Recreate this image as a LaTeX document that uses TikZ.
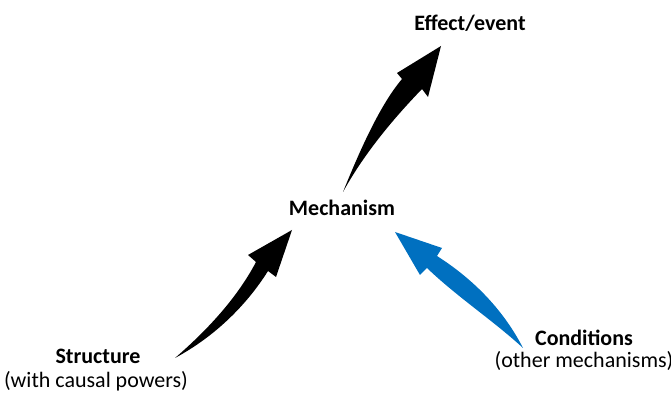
\documentclass[tikz,border=0pt]{standalone}
\usepackage{fontspec}
\setmainfont{Carlito}
\definecolor{condblue}{HTML}{0070C0}
\tikzset{
  lbl/.style={inner sep=0pt, anchor=base, font=\fontsize{11}{13}\selectfont},
  title/.style={lbl, font=\fontsize{11}{13}\selectfont\bfseries},
  fatarrow/.style={fill=black, draw=none},
}
\begin{document}
\begin{tikzpicture}[x=0.5pt, y=-0.5pt]
  \useasboundingbox (0,0) rectangle (671,395);

  % labels
  \node[title] (effect) at (470,31) {Effect/event};
  \node[title] (mech) at (342,216) {Mechanism};
  \node[title] (struct) at (98,364) {Structure};
  \node[lbl] (structsub) at (96,388) {(with causal powers)};
  \node[title] (cond) at (584,346) {Conditions};
  \node[lbl] (condsub) at (584,368) {(other mechanisms)};

  % arrow tips and tails
  \coordinate (t1) at (343,192);
  \coordinate (h1) at (441,46);
  \coordinate (t2) at (175,358);
  \coordinate (h2) at (292,230);
  \coordinate (t3) at (523,348);
  \coordinate (h3) at (395,232);

  % Mechanism -> Effect/event
  \fill[fatarrow] (t1) .. controls (360,150) and (380,105) .. (402,79)
    -- (397,73) -- (h1) -- (428,97) -- (422,89)
    .. controls (395,117) and (365,152) .. cycle;

  % Structure -> Mechanism
  \fill[fatarrow] (t2) .. controls (205,332) and (236,300) .. (256,262)
    -- (248,255) -- (h2) -- (276,277) -- (268,271)
    .. controls (246,306) and (214,337) .. cycle;

  % Conditions -> Mechanism
  \fill[condblue] (t3) .. controls (495,322) and (456,296) .. (427,268)
    -- (420,275) -- (h3) -- (442,248) -- (437,256)
    .. controls (470,277) and (502,307) .. cycle;
\end{tikzpicture}
\end{document}
